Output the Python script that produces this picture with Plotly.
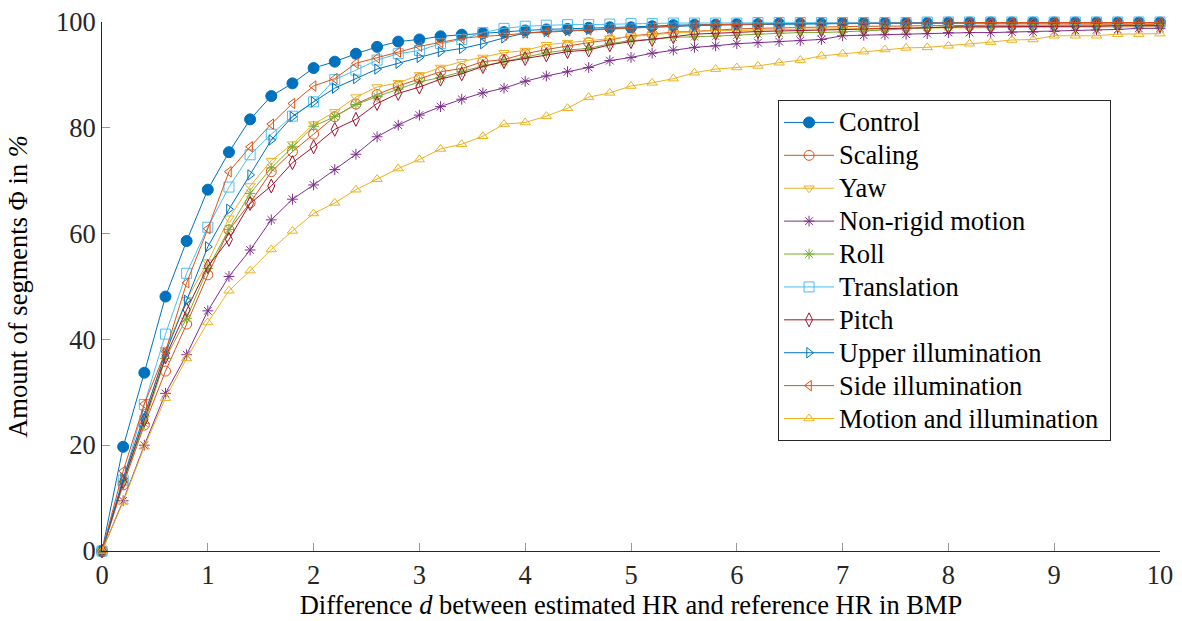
import plotly.graph_objects as go

d_values = [0.0, 0.2, 0.4, 0.6, 0.8, 1.0, 1.2, 1.4, 1.6, 1.8,
            2.0, 2.2, 2.4, 2.6, 2.8, 3.0, 3.2, 3.4, 3.6, 3.8,
            4.0, 4.2, 4.4, 4.6, 4.8, 5.0, 5.2, 5.4, 5.6, 5.8,
            6.0, 6.2, 6.4, 6.6, 6.8, 7.0, 7.2, 7.4, 7.6, 7.8,
            8.0, 8.2, 8.4, 8.6, 8.8, 9.0, 9.2, 9.4, 9.6, 9.8, 10.0]

control = [0, 19.7, 33.7, 48.1, 58.6, 68.3, 75.4, 81.6, 86.0, 88.4,
           91.3, 92.5, 94.0, 95.3, 96.3, 96.7, 97.3, 97.6, 97.9, 98.1,
           98.4, 98.6, 98.7, 98.9, 99.0, 99.0, 99.2, 99.4, 99.5, 99.5,
           99.6, 99.6, 99.7, 99.7, 99.7, 99.8, 99.8, 99.8, 99.8, 99.8,
           99.9, 99.9, 99.9, 99.9, 99.9, 99.9, 99.9, 99.9, 99.9, 99.9, 99.9]

scaling = [0, 12.5, 23.8, 34.0, 42.9, 52.2, 60.7, 65.8, 71.7, 75.5,
           78.8, 82.1, 84.5, 86.3, 87.9, 89.3, 90.6, 91.2, 92.5, 92.9,
           94.0, 94.8, 95.5, 96.1, 96.6, 97.4, 97.7, 98.1, 98.2, 98.5,
           98.7, 98.8, 98.9, 99.0, 99.1, 99.1, 99.2, 99.2, 99.3, 99.3,
           99.3, 99.4, 99.4, 99.4, 99.4, 99.5, 99.5, 99.5, 99.5, 99.5, 99.5]

yaw = [0, 13.0, 25.1, 38.0, 47.5, 54.6, 62.9, 69.0, 73.8, 76.9,
       80.7, 83.0, 85.8, 87.7, 88.5, 90.0, 91.4, 92.5, 93.3, 94.2,
       94.6, 95.7, 96.1, 96.5, 96.9, 97.3, 97.6, 97.9, 98.2, 98.4,
       98.4, 98.5, 98.6, 98.6, 98.7, 98.7, 98.8, 98.8, 98.8, 98.9,
       98.9, 98.9, 99.0, 99.0, 99.0, 99.0, 99.1, 99.1, 99.1, 99.1, 99.1]

non_rigid = [0, 9.5, 20.0, 29.8, 37.1, 45.4, 51.9, 56.9, 62.6, 66.5,
             69.2, 72.1, 75.0, 78.3, 80.5, 82.4, 84.0, 85.4, 86.6, 87.5,
             88.8, 89.8, 90.6, 91.4, 92.7, 93.3, 94.1, 94.7, 95.2, 95.5,
             95.9, 96.1, 96.3, 96.5, 96.7, 97.4, 97.5, 97.6, 97.7, 97.8,
             98.0, 98.0, 98.0, 98.1, 98.1, 98.2, 98.4, 98.5, 98.6, 98.8, 98.8]

roll = [0, 13.1, 24.1, 36.4, 44.0, 53.4, 60.8, 67.6, 72.4, 76.4,
        80.3, 82.1, 84.4, 85.9, 87.3, 88.7, 89.5, 90.6, 91.7, 92.5,
        93.3, 94.2, 94.7, 95.0, 95.9, 96.5, 96.7, 97.1, 97.2, 97.3,
        97.5, 97.7, 97.9, 98.0, 98.0, 98.1, 98.3, 98.5, 98.7, 99.0,
        99.1, 99.2, 99.2, 99.2, 99.3, 99.3, 99.3, 99.3, 99.3, 99.3, 99.3]

translation = [0, 13.4, 27.7, 41.0, 52.5, 61.2, 68.8, 74.9, 78.8, 82.2,
               84.9, 89.1, 90.9, 92.8, 94.0, 94.6, 95.9, 96.7, 98.0, 98.8,
               99.2, 99.4, 99.5, 99.5, 99.6, 99.7, 99.7, 99.8, 99.8, 99.8,
               99.8, 99.9, 99.9, 99.9, 99.9, 99.9, 99.9, 99.9, 99.9, 100,
               100, 100, 100, 100, 100, 100, 100, 100, 100, 100, 100]

pitch = [0, 13.1, 24.8, 36.7, 45.6, 53.8, 58.9, 65.7, 69.0, 73.4,
         76.4, 79.7, 81.6, 84.6, 86.5, 87.7, 89.2, 90.2, 91.6, 92.5,
         93.1, 93.8, 94.4, 94.7, 95.7, 96.3, 96.7, 97.2, 97.7, 97.9,
         98.0, 98.2, 98.3, 98.4, 98.5, 98.6, 98.7, 98.8, 98.9, 99.0,
         99.0, 99.1, 99.1, 99.1, 99.2, 99.2, 99.2, 99.2, 99.3, 99.3, 99.3]

upper_illum = [0, 13.7, 25.7, 37.4, 47.4, 57.5, 64.6, 71.1, 77.7, 82.1,
               84.9, 87.5, 89.3, 91.1, 92.2, 93.3, 94.4, 95.0, 95.9, 97.0,
               97.9, 98.2, 98.4, 98.6, 98.8, 98.9, 99.0, 99.2, 99.3, 99.4,
               99.5, 99.5, 99.6, 99.6, 99.7, 99.7, 99.7, 99.8, 99.8, 99.8,
               99.8, 99.8, 99.8, 99.8, 99.8, 99.8, 99.8, 99.8, 99.8, 99.8, 99.8]

side_illum = [0, 15.1, 27.8, 37.7, 50.7, 60.9, 71.7, 76.4, 80.7, 84.6,
              87.9, 89.3, 92.2, 93.2, 94.3, 95.4, 96.1, 96.9, 97.3, 97.5,
              97.9, 98.1, 98.3, 98.5, 98.6, 98.8, 99.0, 99.2, 99.4, 99.5,
              99.5, 99.6, 99.7, 99.7, 99.7, 99.8, 99.8, 99.8, 99.8, 99.8,
              99.8, 99.9, 99.9, 99.9, 99.9, 99.9, 99.9, 99.9, 99.9, 99.9, 99.9]

motion_illum = [0, 9.3, 19.7, 28.9, 36.4, 43.2, 49.2, 53.0, 57.0, 60.5,
                63.8, 65.8, 68.3, 70.3, 72.3, 74.0, 76.0, 76.9, 78.4, 80.7,
                81.0, 82.2, 83.7, 85.8, 86.6, 87.9, 88.5, 89.3, 90.4, 91.1,
                91.4, 91.7, 92.3, 92.8, 93.6, 94.0, 94.4, 94.8, 95.1, 95.2,
                95.5, 95.9, 96.2, 96.6, 96.7, 97.4, 97.4, 97.4, 97.7, 97.7, 97.8]

series_names = ["Control", "Scaling", "Yaw", "Non-rigid motion", "Roll",
                "Translation", "Pitch", "Upper illumination",
                "Side illumination", "Motion and illumination"]
series_values = [control, scaling, yaw, non_rigid, roll,
                 translation, pitch, upper_illum, side_illum, motion_illum]
series_colors = ["#0072BD", "#D95319", "#EDB120", "#7E2F8E", "#77AC30",
                 "#4DBEEE", "#A2142F", "#0072BD", "#D95319", "#EDB120"]
series_symbols = ["circle", "circle-open", "triangle-down-open", "asterisk-open",
                  "asterisk-open", "square-open", "diamond-tall-open",
                  "triangle-right-open", "triangle-left-open", "triangle-up-open"]
series_sizes = [11, 10, 9, 9, 9, 10, 10, 9, 9, 9]

FONT = "Liberation Serif, Times New Roman, serif"
FS = 26.5
fig = go.Figure()
for i, (name, vals, col, sym, sz) in enumerate(zip(series_names, series_values,
                                                   series_colors, series_symbols,
                                                   series_sizes)):
    fig.add_trace(go.Scatter(
        x=d_values, y=vals,
        name=f'<span style="font-size:{FS}px">{name}\u00a0</span>',
        mode="lines+markers",
        line=dict(color=col, width=1),
        marker=dict(symbol=sym, size=sz, color=col,
                    line=dict(color=col, width=1)),
        cliponaxis=False,
    ))

fig.update_layout(
    width=1182, height=621,
    margin=dict(l=102, r=22, t=22, b=70),
    paper_bgcolor="white", plot_bgcolor="white",
    font=dict(family=FONT, size=FS, color="#262626"),
    showlegend=True,
    legend=dict(x=0.639, y=0.8526, xanchor="left", yanchor="top",
                bordercolor="#262626", borderwidth=1, bgcolor="white",
                font=dict(family=FONT, size=23, color="#000000"),
                tracegroupgap=0, itemwidth=50),
    xaxis=dict(range=[0, 10], tickvals=[0, 1, 2, 3, 4, 5, 6, 7, 8, 9, 10],
               showline=True, linecolor="#262626", linewidth=1,
               ticks="inside", ticklen=8, tickcolor="#9a9a9a", tickwidth=1,
               showgrid=False, zeroline=False, mirror=False, automargin=False,
               tickfont=dict(family=FONT, size=FS, color="#262626"),
               title=dict(text="Difference <i>d</i> between estimated HR and reference HR in BMP",
                          font=dict(family=FONT, size=FS, color="#000000"),
                          standoff=2)),
    yaxis=dict(range=[0, 100], tickvals=[0, 20, 40, 60, 80, 100],
               showline=True, linecolor="#262626", linewidth=1,
               ticks="inside", ticklen=8, tickcolor="#9a9a9a", tickwidth=1,
               showgrid=False, zeroline=False, mirror=False, automargin=False,
               tickfont=dict(family=FONT, size=FS, color="#262626"),
               title=dict(text="Amount of segments Φ in <i>%</i>",
                          font=dict(family=FONT, size=FS, color="#000000"),
                          standoff=20)),
)

fig.write_html("out.html")
